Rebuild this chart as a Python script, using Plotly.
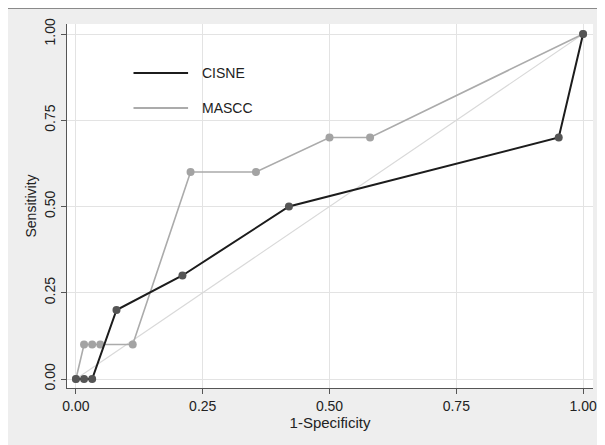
import plotly.graph_objects as go

# ---- data ----
series_names = ["CISNE", "MASCC"]
cisne_fpr = [0.0, 0.016, 0.032, 0.08, 0.21, 0.42, 0.952, 1.0]
cisne_tpr = [0.0, 0.0, 0.0, 0.2, 0.3, 0.5, 0.7, 1.0]
mascc_fpr = [0.0, 0.016, 0.032, 0.048, 0.112, 0.226, 0.355, 0.5, 0.58, 1.0]
mascc_tpr = [0.0, 0.1, 0.1, 0.1, 0.1, 0.6, 0.6, 0.7, 0.7, 1.0]
ref_x = [0.0, 1.0]
ref_y = [0.0, 1.0]
tick_vals = [0, 0.25, 0.5, 0.75, 1.0]
tick_text = ["0.00", "0.25", "0.50", "0.75", "1.00"]
x_title = "1-Specificity"
y_title = "Sensitivity"

FONT = "Liberation Sans, Arial, sans-serif"
NARROW = "Liberation Sans Narrow, Arial Narrow, Liberation Sans, sans-serif"
line_colors = ["#1c1c1c", "#ababab"]
marker_colors = ["#555555", "#a3a3a3"]
line_widths = [2.0, 1.6]

fig = go.Figure()

fig.add_trace(go.Scatter(x=ref_x, y=ref_y, mode="lines",
                         line=dict(color="#d9d9d9", width=1.1),
                         showlegend=False, hoverinfo="skip"))

fig.add_trace(go.Scatter(x=mascc_fpr, y=mascc_tpr, mode="lines+markers",
                         name=series_names[1],
                         line=dict(color=line_colors[1], width=line_widths[1]),
                         marker=dict(color=marker_colors[1], size=8),
                         showlegend=False))
fig.add_trace(go.Scatter(x=cisne_fpr, y=cisne_tpr, mode="lines+markers",
                         name=series_names[0],
                         line=dict(color=line_colors[0], width=line_widths[0]),
                         marker=dict(color=marker_colors[0], size=8),
                         showlegend=False))

# The page body has an 8px default margin; the figure is placed at (8, 8).
OFF = 8
W, H = 605 - OFF, 445 - OFF
ml, mr, mt, mb = 67 - OFF, 8, 24 - OFF, 57
pw, ph = W - ml - mr, H - mt - mb

def px_x(px):  # px in window coordinates
    return (px - OFF - ml) / pw

def px_y(py):
    return 1 - (py - OFF - mt) / ph

legend_rows = [73, 108]
for i, name in enumerate(series_names):
    fig.add_shape(type="line", xref="paper", yref="paper",
                  x0=px_x(134), x1=px_x(189), y0=px_y(legend_rows[i]), y1=px_y(legend_rows[i]),
                  line=dict(color=line_colors[i], width=2.2 if i == 0 else 2.0))
    fig.add_annotation(xref="paper", yref="paper", x=px_x(201), y=px_y(legend_rows[i]),
                       text=name, showarrow=False, xanchor="left", yanchor="middle",
                       font=dict(family=NARROW, size=14, color="#222222"))

# top border line of the exported image
fig.add_shape(type="line", xref="paper", yref="paper",
              x0=px_x(0), x1=px_x(620), y0=px_y(8.5), y1=px_y(8.5),
              line=dict(color="#8a8a8a", width=1))

axis_common = dict(
    tickvals=tick_vals, ticktext=tick_text,
    showgrid=True, gridcolor="#e3e3e3", gridwidth=1,
    zeroline=False, showline=True, linecolor="#555555", linewidth=1,
    ticks="outside", ticklen=5, tickcolor="#555555", tickwidth=1,
    tickfont=dict(family=FONT, size=14, color="#222222"),
    fixedrange=True,
)

# window pixel positions: x=0 -> 76, x=1 -> 587; y=0 -> 379, y=1 -> 34
x_left_px, x_right_px = ml + OFF, ml + OFF + pw
y_top_px, y_bot_px = mt + OFF, mt + OFF + ph
fig.update_xaxes(range=[(x_left_px - 76) / 511, (x_right_px - 76) / 511],
                 title=dict(text=x_title, font=dict(family=FONT, size=15, color="#222222"), standoff=2),
                 **axis_common)
fig.update_yaxes(range=[-(y_bot_px - 379) / 345, 1 + (34 - y_top_px) / 345],
                 tickangle=-90,
                 title=dict(text=y_title, font=dict(family=FONT, size=14, color="#222222"), standoff=2),
                 **axis_common)

fig.update_layout(
    width=W, height=H,
    margin=dict(l=ml, r=mr, t=mt, b=mb, pad=0),
    paper_bgcolor="#eeeeee",
    plot_bgcolor="white",
    showlegend=False,
)

fig.write_html("out.html")
